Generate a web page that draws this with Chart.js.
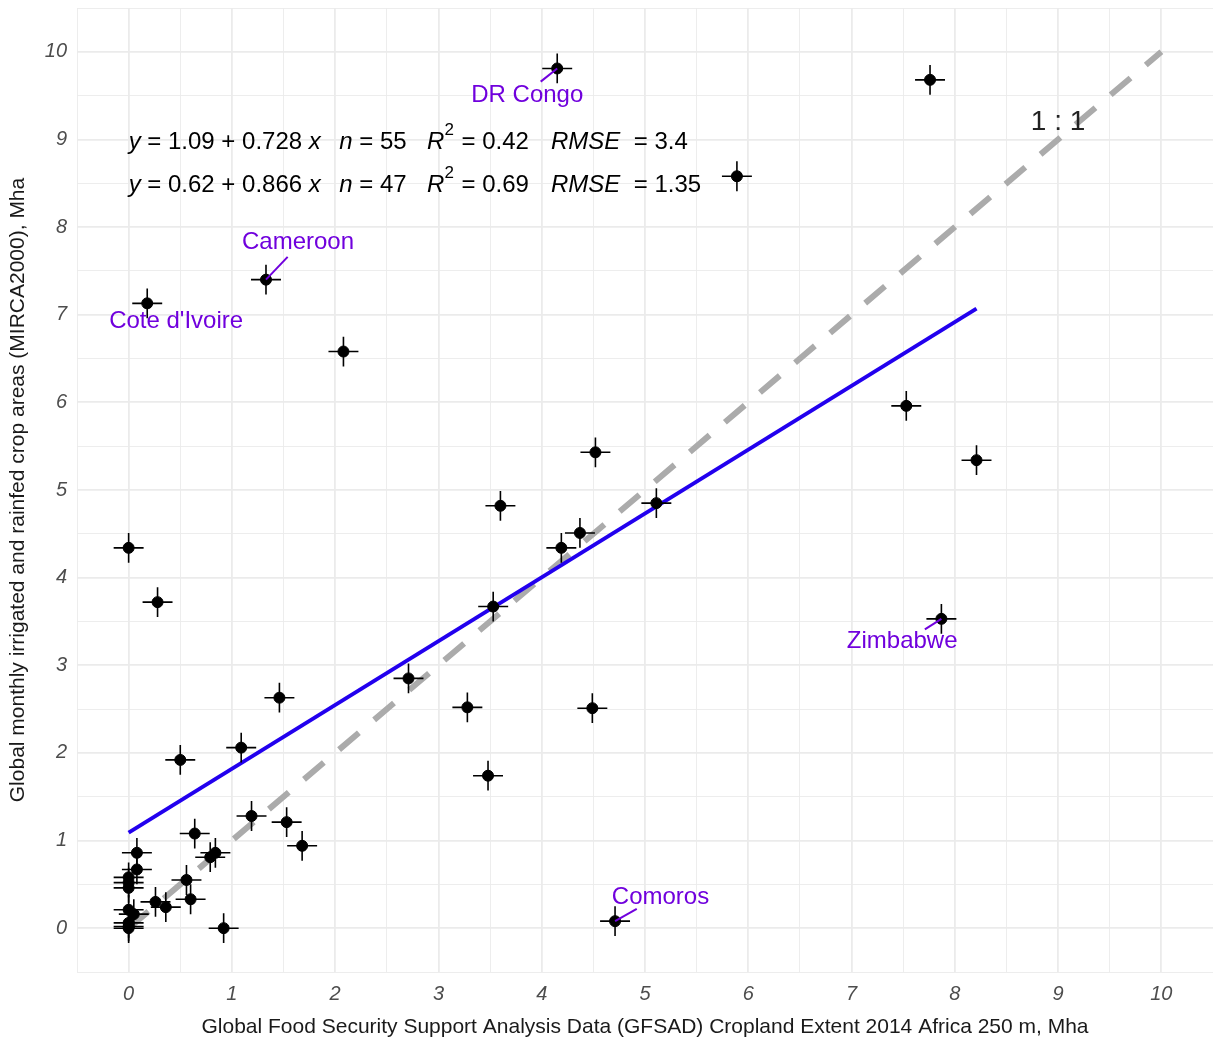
<!DOCTYPE html>
<html>
<head>
<meta charset="utf-8">
<script src="https://cdn.jsdelivr.net/npm/chart.js@4.4.1/dist/chart.umd.min.js"></script>
<style>
  body { margin: 0; background: #fff; }
  #wrap { width: 1213px; height: 1042px; }
</style>
</head>
<body>
<div id="wrap"><canvas id="myChart" width="1213" height="1042"></canvas></div>
<script>
// GFSAD cropland (x) vs MIRCA2000 crop areas (y), Mha, per country
const gfsad = [
  4.15, 7.76, 5.89, 1.33, 0.18, 2.08, 7.53, 4.52, 8.21, 3.60,
  5.11, 4.37, 4.19, 0.00, 0.28, 3.53, 7.87, 2.71, 1.46, 3.28,
  4.49, 1.09, 0.50, 3.48, 1.19, 1.53, 0.64, 1.68, 0.84, 0.79,
  4.71, 0.92, 0.56, 0.60, 0.26, 0.36, 0.08, 0.08, 0.00, 0.00,
  0.00, 0.00, 0.05, 0.00, 0.00, 0.00,
];
const mirca = [
  9.81, 9.68, 8.58, 7.40, 7.13, 6.58, 5.96, 5.43, 5.34, 4.82,
  4.85, 4.51, 4.34, 4.34, 3.72, 3.67, 3.53, 2.85, 2.63, 2.52,
  2.51, 2.06, 1.92, 1.74, 1.28, 1.21, 1.08, 0.94, 0.86, 0.81,
  0.08, 0.00, 0.55, 0.33, 0.30, 0.24, 0.86, 0.67, 0.58, 0.52,
  0.46, 0.21, 0.16, 0.06, 0.02, 0.00,
];
const countries = ["DR Congo", "Cameroon", "Cote d'Ivoire", "Zimbabwe", "Comoros"];
const countryIndex = [0, 3, 4, 16, 30];

// fitted regression (all countries) and the 1:1 reference
const fitX = [0, 8.21];
const fitY = [1.09, 7.07];
const refX = [0, 10];
const refY = [0, 10];

const tickValues = [0, 1, 2, 3, 4, 5, 6, 7, 8, 9, 10];

const errX = 0.145;
const errY = 0.17;

// label placement (data units, like ggrepel output)
const labelPos = {
  "DR Congo":      { x: 3.86, y: 9.50, seg: [3.99, 9.66] },
  "Cameroon":      { x: 1.64, y: 7.82, seg: [1.54, 7.66] },
  "Cote d'Ivoire": { x: 0.46, y: 6.92, seg: null },
  "Zimbabwe":      { x: 7.49, y: 3.27, seg: [7.71, 3.41] },
  "Comoros":       { x: 5.15, y: 0.35, seg: [4.92, 0.22] },
};

const FONT = "'Liberation Sans', Arial, sans-serif";
const LABEL_COLOR = "#7000DD";

const points = gfsad.map((x, i) => ({ x, y: mirca[i] }));

const annotations = {
  id: "annotations",
  afterDatasetsDraw(chart) {
    const { ctx, scales } = chart;
    const xs = scales.x, ys = scales.y;
    ctx.save();

    // error bars
    ctx.strokeStyle = "#000";
    ctx.lineWidth = 1.6;
    points.forEach((p) => {
      const px = xs.getPixelForValue(p.x);
      const py = ys.getPixelForValue(p.y);
      ctx.beginPath();
      ctx.moveTo(xs.getPixelForValue(p.x - errX), py);
      ctx.lineTo(xs.getPixelForValue(p.x + errX), py);
      ctx.moveTo(px, ys.getPixelForValue(p.y - errY));
      ctx.lineTo(px, ys.getPixelForValue(p.y + errY));
      ctx.stroke();
    });

    // country labels
    ctx.font = "24px " + FONT;
    ctx.textAlign = "center";
    ctx.textBaseline = "middle";
    countries.forEach((name, k) => {
      const p = points[countryIndex[k]];
      const l = labelPos[name];
      if (l.seg) {
        ctx.strokeStyle = LABEL_COLOR;
        ctx.lineWidth = 2;
        ctx.beginPath();
        ctx.moveTo(xs.getPixelForValue(p.x), ys.getPixelForValue(p.y));
        ctx.lineTo(xs.getPixelForValue(l.seg[0]), ys.getPixelForValue(l.seg[1]));
        ctx.stroke();
      }
      ctx.fillStyle = LABEL_COLOR;
      ctx.fillText(name, xs.getPixelForValue(l.x), ys.getPixelForValue(l.y));
    });

    // 1:1 tag
    ctx.fillStyle = "#222";
    ctx.font = "28px " + FONT;
    ctx.fillText("1 : 1", xs.getPixelForValue(9.0), ys.getPixelForValue(9.2));

    // equation lines: pieces [text, italic, superscript]
    const eqs = [
      { y: 8.97, groups: [
        [["y", 1], [" = 1.09 + 0.728 ", 0], ["x", 1]],
        [["n", 1], [" = 55", 0]],
        [["R", 1], ["2", 0, 1], [" = 0.42", 0]],
        [["RMSE", 1], ["  = 3.4", 0]],
      ]},
      { y: 8.48, groups: [
        [["y", 1], [" = 0.62 + 0.866 ", 0], ["x", 1]],
        [["n", 1], [" = 47", 0]],
        [["R", 1], ["2", 0, 1], [" = 0.69", 0]],
        [["RMSE", 1], ["  = 1.35", 0]],
      ]},
    ];
    const groupX = [0, 2.04, 2.89, 4.09];
    ctx.fillStyle = "#000";
    ctx.textAlign = "left";
    ctx.textBaseline = "middle";
    eqs.forEach((eq) => {
      const py = ys.getPixelForValue(eq.y);
      eq.groups.forEach((g, gi) => {
        let px = xs.getPixelForValue(groupX[gi]);
        g.forEach(([t, it, sup]) => {
          ctx.font = (it ? "italic " : "") + (sup ? "17px " : "24px ") + FONT;
          ctx.fillText(t, px, sup ? py - 12 : py);
          px += ctx.measureText(t).width + (sup ? 1 : 0);
        });
      });
    });

    ctx.restore();
  },
};

const gridStyle = {
  color: "#EBEBEB",
  lineWidth: (c) => (c.tick && Number.isInteger(c.tick.value) ? 1.8 : 0.9),
  drawTicks: false,
};

const tickStyle = {
  stepSize: 0.5,
  autoSkip: false,
  maxRotation: 0,
  color: "#4D4D4D",
  font: { family: FONT, size: 20, style: "italic" },
  padding: 10,
  callback: (v) => (tickValues.includes(v) ? v : ""),
};

const config = {
  type: "scatter",
  data: {
    datasets: [
      {
        data: points,
        backgroundColor: "#000",
        borderColor: "#000",
        pointRadius: 5.5,
        pointHoverRadius: 5.5,
        order: 0,
      },
      {
        type: "line",
        data: fitX.map((x, i) => ({ x, y: fitY[i] })),
        borderColor: "#2200EE",
        borderWidth: 4,
        pointRadius: 0,
        order: 1,
      },
      {
        type: "line",
        data: refX.map((x, i) => ({ x, y: refY[i] })),
        borderColor: "#ABABAB",
        borderWidth: 6,
        borderDash: [26, 20],
        pointRadius: 0,
        order: 2,
      },
    ],
  },
  options: {
    responsive: false,
    animation: false,
    layout: { autoPadding: false, padding: { top: 8, right: 0, left: 0, bottom: 0 } },
    plugins: {
      legend: { display: false },
      tooltip: { enabled: false },
    },
    scales: {
      x: {
        type: "linear",
        min: -0.5,
        max: 10.5,
        grid: gridStyle,
        border: { display: false },
        ticks: tickStyle,
        afterFit: (s) => { s.height = 70; s.paddingLeft = 0; s.paddingRight = 0; },
        title: {
          display: true,
          text: "Global Food Security Support Analysis Data (GFSAD) Cropland Extent 2014 Africa 250 m, Mha",
          color: "#1A1A1A",
          font: { family: FONT, size: 21 },
          padding: { top: 0, bottom: 2 },
        },
      },
      y: {
        type: "linear",
        min: -0.5,
        max: 10.5,
        grid: gridStyle,
        border: { display: false },
        ticks: tickStyle,
        afterFit: (s) => { s.width = 77; s.paddingTop = 0; s.paddingBottom = 0; },
        title: {
          display: true,
          text: "Global monthly irrigated and rainfed crop areas (MIRCA2000), Mha",
          color: "#1A1A1A",
          font: { family: FONT, size: 21 },
          padding: { top: 6, bottom: 0 },
        },
      },
    },
  },
  plugins: [annotations],
};

const myChart = new Chart(document.querySelector("#myChart").getContext("2d"), config);
</script>
</body>
</html>
